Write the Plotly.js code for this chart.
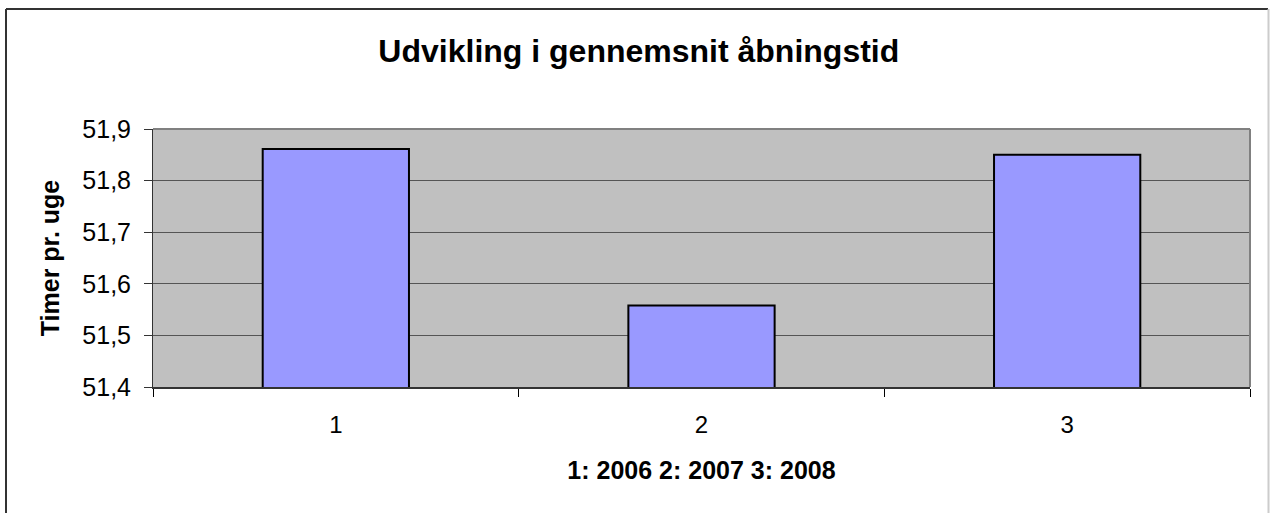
<!DOCTYPE html>
<html>
<head>
<meta charset="utf-8">
<script src="https://cdn.plot.ly/plotly-3.0.1.min.js"></script>
<style>html,body{margin:0;padding:0;background:#fff;}#chart{width:1270px;height:513px;}</style>
</head>
<body>
<div id="chart"></div>
<script>
const categories = ["1", "2", "3"];
const values = [51.861, 51.558, 51.850];
const chartTitle = "Udvikling i gennemsnit åbningstid";
const xTitle = "1: 2006 2: 2007 3: 2008";
const yTitle = "Timer pr. uge";
const yTickVals = [51.4, 51.5, 51.6, 51.7, 51.8, 51.9];
const yTickText = ["51,4", "51,5", "51,6", "51,7", "51,8", "51,9"];

const L = 153, R = 1250, T = 129, B = 387;
const px = x => (x - L) / (R - L);
const py = y => (B - y) / (B - T);
const font = "Arial, 'Liberation Sans', sans-serif";

const trace = {
  type: "bar",
  x: categories,
  y: values,
  marker: {color: "#9999FF", line: {color: "#000000", width: 2}},
  hoverinfo: "none"
};

const layout = {
  width: 1270, height: 513,
  margin: {l: L, r: 1270 - R, t: T, b: 513 - B},
  paper_bgcolor: "#ffffff",
  plot_bgcolor: "#C0C0C0",
  showlegend: false,
  bargap: 0.6,
  font: {family: font, color: "#000"},
  title: {text: "<b>" + chartTitle + "</b>", font: {size: 32, family: font, color: "#000"},
          x: 0.503, xref: "container", xanchor: "center", y: 1 - 51/513, yanchor: "middle"},
  xaxis: {
    type: "category",
    tickson: "boundaries",
    ticks: "outside", ticklen: 8, tickcolor: "#000", tickwidth: 1,
    showline: true, linecolor: "#333", linewidth: 2,
    showgrid: false,
    tickfont: {size: 24, family: font, color: "#000"},
    ticklabelstandoff: 15,
    title: {text: "<b>" + xTitle + "</b>", font: {size: 25, family: font, color: "#000"}, standoff: 25},
    automargin: false
  },
  yaxis: {
    range: [51.4, 51.9],
    tickvals: yTickVals, ticktext: yTickText,
    ticks: "outside", ticklen: 8, tickcolor: "#333", tickwidth: 1,
    showline: true, linecolor: "#333", linewidth: 1,
    showgrid: true, gridcolor: "#555555", gridwidth: 1,
    zeroline: false,
    tickfont: {size: 25, family: font, color: "#000"},
    ticklabelstandoff: 8,
    title: {text: "<b>" + yTitle + "</b>", font: {size: 25, family: font, color: "#000"}, standoff: 15},
    automargin: false
  },
  shapes: [
    {type: "line", xref: "paper", yref: "paper", x0: px(L), x1: px(R), y0: 1, y1: 1, line: {color: "#808080", width: 2}},
    {type: "line", xref: "paper", yref: "paper", x0: px(R), x1: px(R), y0: 0, y1: 1, line: {color: "#808080", width: 2}},
    {type: "line", xref: "paper", yref: "paper", x0: px(6), x1: px(1268), y0: py(9), y1: py(9), line: {color: "#333333", width: 2}},
    {type: "line", xref: "paper", yref: "paper", x0: px(6), x1: px(6), y0: py(9), y1: py(520), line: {color: "#333333", width: 2}},
    {type: "line", xref: "paper", yref: "paper", x0: px(1268.5), x1: px(1268.5), y0: py(9), y1: py(520), line: {color: "#cccccc", width: 2}}
  ]
};

Plotly.newPlot("chart", [trace], layout, {displayModeBar: false, staticPlot: true});
</script>
</body>
</html>
